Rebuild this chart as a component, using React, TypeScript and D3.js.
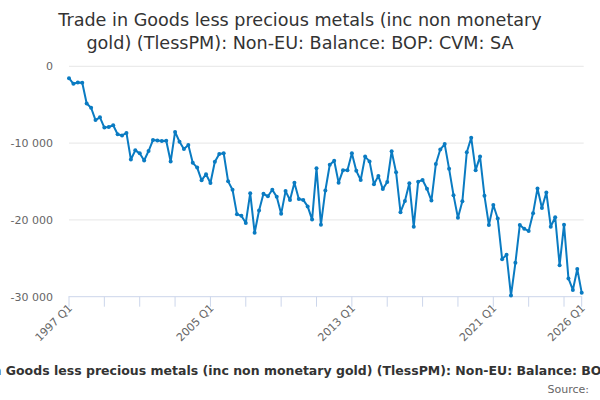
import React from "react";
import * as d3 from "d3";

const startYear = 1997;
const values: number[] = [
  -1545, -2275, -2100, -2145, -4850, -5400, -7000, -6650, -7980, -7900,
  -7680, -8840, -9010, -8670, -12140, -10940, -11330, -12270, -11030, -9610,
  -9650, -9740, -9700, -12400, -8540, -9820, -10770, -10250, -12570, -13190,
  -14850, -14050, -15200, -12420, -11410, -11320, -14980, -16080, -19250, -19470,
  -20400, -16520, -21670, -18770, -16610, -16920, -16080, -17000, -19210, -16250,
  -17400, -15150, -17270, -17400, -18240, -19960, -13260, -20620, -16170, -12820,
  -12290, -15150, -13520, -13520, -11320, -13610, -14800, -11760, -12380, -15350,
  -14270, -15990, -15070, -11060, -13790, -18990, -17530, -15240, -20880, -15020,
  -14800, -15950, -17490, -12730, -10840, -10130, -13350, -16780, -19730, -17580,
  -11190, -9300, -13520, -11760, -16870, -20660, -18060, -19820, -25110, -24540,
  -29850, -25590, -20660, -21140, -21450, -19120, -15900, -18460, -16430, -20880,
  -19650, -25900, -20620, -27620, -29120, -26390, -29470,
];
const categories: string[] = values.map(
  (_, i) => `${startYear + Math.floor(i / 4)} Q${(i % 4) + 1}`
);
const yTicks: number[] = [0, -10000, -20000, -30000];
const titleLines: string[] = [
  "Trade in Goods less precious metals (inc non monetary",
  "gold) (TlessPM): Non-EU: Balance: BOP: CVM: SA",
];
const seriesName =
  "Trade in Goods less precious metals (inc non monetary gold) (TlessPM): Non-EU: Balance: BOP: CVM: SA";

const W = 600;
const H = 400;
const left = 69;
const right = 581.7;
const top = 66.3;
const bottom = 296.7;
const lineColor = "#0a7bc2";
const font = "'DejaVu Sans', sans-serif";

export default function App() {
  const n = values.length;
  const x = d3.scaleLinear().domain([0, n - 1]).range([left, right]);
  const y = d3.scaleLinear().domain([-30000, 0]).range([bottom, top]);
  const line = d3
    .line<number>()
    .x((_, i) => x(i))
    .y((d) => y(d));

  const tickIdx: number[] = [];
  for (let i = 0; i < n - 4; i += 8) tickIdx.push(i);
  tickIdx.push(n - 1);
  const labelIdx: number[] = [];
  for (let i = 0; i < n - 4; i += 32) labelIdx.push(i);
  labelIdx.push(n - 1);

  const fmt = (v: number) => (v === 0 ? "0" : d3.format(",")(v).replace(/,/g, " ").replace("−", "-"));

  return (
    <svg
      width={W}
      height={H}
      style={{ position: "absolute", left: 0, top: 0, fontFamily: font }}
    >
      <rect width={W} height={H} fill="#ffffff" />
      {titleLines.map((t, i) => (
        <text
          key={i}
          x={W / 2}
          y={26 + i * 23}
          textAnchor="middle"
          fontSize={17.6}
          fill="#333333"
        >
          {t}
        </text>
      ))}
      {yTicks.map((v) => (
        <g key={v}>
          {v !== -30000 && (
            <line x1={left} x2={right + 2} y1={y(v)} y2={y(v)} stroke="#e6e6e6" strokeWidth={1} />
          )}
          <text x={53} y={y(v) + 4} textAnchor="end" fontSize={11} fill="#666666">
            {fmt(v)}
          </text>
        </g>
      ))}
      <line x1={left - 0.5} x2={right + 0.5} y1={bottom} y2={bottom} stroke="#ccd6eb" strokeWidth={1} />
      {tickIdx.map((i) => (
        <line key={i} x1={x(i)} x2={x(i)} y1={bottom} y2={bottom + 10} stroke="#ccd6eb" strokeWidth={1} />
      ))}
      {labelIdx.map((i) => (
        <text
          key={i}
          transform={`translate(${x(i) + 4},${bottom + 12}) rotate(-45)`}
          textAnchor="end"
          fontSize={11}
          fill="#666666"
        >
          {categories[i]}
        </text>
      ))}
      <path d={line(values) || ""} fill="none" stroke={lineColor} strokeWidth={2} strokeLinejoin="round" />
      {values.map((v, i) => (
        <circle key={i} cx={x(i)} cy={y(v)} r={2} fill={lineColor} />
      ))}
      <text x={312} y={375} textAnchor="middle" fontSize={12.5} fontWeight="bold" fill="#333333">
        {seriesName}
      </text>
      <text x={589} y={393} textAnchor="end" fontSize={11} fill="#666666">
        Source:
      </text>
    </svg>
  );
}
